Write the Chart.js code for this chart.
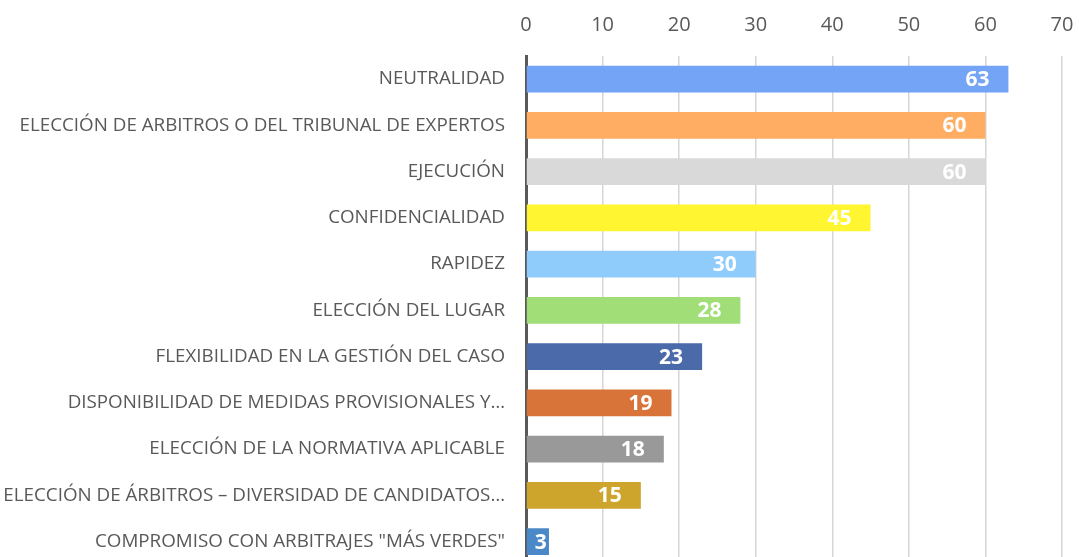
<!DOCTYPE html>
<html>
<head>
<meta charset="utf-8">
<script src="https://cdn.jsdelivr.net/npm/chart.js@4"></script>
<style>
  html, body { margin: 0; padding: 0; background: #fff; overflow: hidden; }
  canvas { display: block; }
</style>
</head>
<body>
<canvas id="motivos" width="1079" height="597"></canvas>
<script>
// categorias y valores
var labels = [
    'NEUTRALIDAD',
    'ELECCIÓN DE ARBITROS O DEL TRIBUNAL DE EXPERTOS',
    'EJECUCIÓN',
    'CONFIDENCIALIDAD',
    'RAPIDEZ',
    'ELECCIÓN DEL LUGAR',
    'FLEXIBILIDAD EN LA GESTIÓN DEL CASO',
    'DISPONIBILIDAD DE MEDIDAS PROVISIONALES Y…',
    'ELECCIÓN DE LA NORMATIVA APLICABLE',
    'ELECCIÓN DE ÁRBITROS – DIVERSIDAD DE CANDIDATOS…',
    'COMPROMISO CON ARBITRAJES "MÁS VERDES"'
];
var values = [63, 60, 60, 45, 30, 28, 23, 19, 18, 15, 3];
var barColors = ['#74A4F5', '#FFAD63', '#D9D9D9', '#FFF530', '#8FCCFB', '#A2DE78',
                 '#4A6AAA', '#D8733A', '#999999', '#CDA42C', '#4A88C7'];
var xTicks = [0, 10, 20, 30, 40, 50, 60, 70];

// etiquetas blancas dentro del final de cada barra
var valueLabels = {
    id: 'valueLabels',
    afterDatasetsDraw: function (chart) {
        var ctx = chart.ctx;
        var meta = chart.getDatasetMeta(0);
        ctx.save();
        ctx.fillStyle = '#ffffff';
        ctx.font = 'bold 21px "Open Sans", sans-serif';
        ctx.textAlign = 'right';
        ctx.textBaseline = 'middle';
        meta.data.forEach(function (bar, i) {
            // barras cortas: la etiqueta queda pegada al final
            var x = Math.max(bar.x - 19, bar.base + 20);
            ctx.fillText(values[i], x, bar.y + 1);
        });
        ctx.restore();
    }
};

new Chart(document.getElementById('motivos'), {
    type: 'bar',
    data: {
        labels: labels,
        datasets: [{
            data: values,
            backgroundColor: barColors,
            barPercentage: 0.58,
            categoryPercentage: 1.0
        }]
    },
    plugins: [valueLabels],
    options: {
        indexAxis: 'y',
        responsive: false,
        animation: false,
        layout: { padding: { left: 0, right: 17, top: 0, bottom: 0 } },
        plugins: {
            legend: { display: false },
            tooltip: { enabled: false }
        },
        scales: {
            x: {
                position: 'top',
                min: 0,
                max: 70,
                afterBuildTicks: function (axis) {
                    axis.ticks = xTicks.map(function (v) { return { value: v }; });
                },
                afterFit: function (axis) {
                    axis.height = 56;
                    axis.paddingLeft = 0;
                    axis.paddingRight = 0;
                },
                grid: { color: '#d6d6d6', lineWidth: 1.5, drawTicks: false },
                border: { display: false },
                ticks: {
                    color: '#595959',
                    padding: 19,
                    font: { family: '"Open Sans", sans-serif', size: 20 }
                }
            },
            y: {
                afterFit: function (axis) { axis.width = 526; },
                grid: { display: false, drawTicks: false },
                border: { display: true, color: '#595959', width: 3 },
                ticks: {
                    color: '#595959',
                    padding: 21,
                    autoSkip: false,
                    font: { family: '"Open Sans", sans-serif', size: 18.8 }
                }
            }
        }
    }
});
</script>
</body>
</html>
